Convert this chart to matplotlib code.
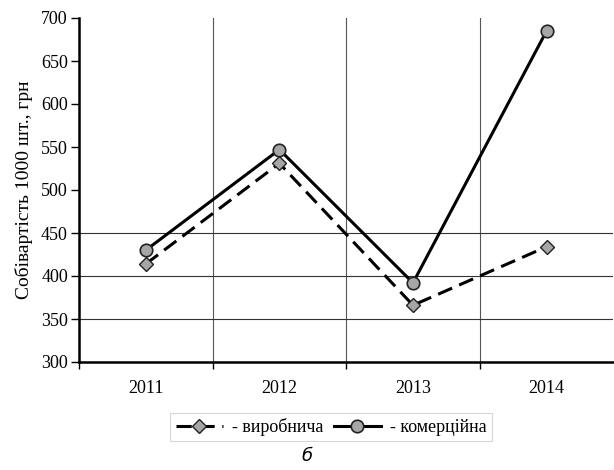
import matplotlib.pyplot as plt
from matplotlib.ticker import FixedLocator

years = ['2011', '2012', '2013', '2014']
vyrobnycha = [414, 531, 366, 434]
komertsiina = [430, 547, 392, 685]
hlines = [350, 400, 450]  # only these horizontal grid lines are visible

plt.rcParams['font.family'] = ['Liberation Serif', 'DejaVu Serif']

fig = plt.figure(figsize=(6.14, 4.70), dpi=100)
ax = fig.add_axes([79 / 614, 1 - 362 / 470, 1 - 79 / 614 - 0.001, (362 - 18) / 470])

x = list(range(len(years)))
ax.plot(x, vyrobnycha, color='black', lw=2.2, dashes=(5, 2.5), marker='D', ms=7.5,
        mfc='#a6a6a6', mec='#222222', mew=1, label='- виробнича', zorder=3)
ax.plot(x, komertsiina, color='black', lw=2.2, marker='o', ms=9,
        mfc='#a6a6a6', mec='#222222', mew=1.2, label='- комерційна', zorder=4)

ax.set_xlim(-0.5, 3.5)
ax.set_ylim(300, 700)
ax.set_yticks(range(300, 701, 50))
ax.set_xticks(x)
ax.set_xticklabels(years)
ax.xaxis.set_minor_locator(FixedLocator([-0.5, 0.5, 1.5, 2.5]))
ax.tick_params(axis='x', which='major', length=0, pad=13, labelsize=13)
ax.tick_params(axis='x', which='minor', length=5, width=1)
ax.tick_params(axis='y', length=6, width=1, labelsize=13, pad=2)

for h in hlines:
    ax.axhline(h, color='#333333', lw=0.8, zorder=1)
ax.grid(axis='x', which='minor', color='#555555', lw=0.8)
ax.set_axisbelow(True)

for s in ['top', 'right']:
    ax.spines[s].set_visible(False)
ax.spines['left'].set_linewidth(1.8)
ax.spines['bottom'].set_linewidth(1.8)

ax.set_ylabel('Собівартість 1000 шт., грн', fontsize=14, labelpad=6)

leg = fig.legend(loc='center', bbox_to_anchor=(331 / 614, 1 - 427 / 470), ncol=2,
                 frameon=True, fancybox=False, edgecolor='#cccccc', fontsize=13,
                 handlelength=2.6, columnspacing=0.6, handletextpad=0.5,
                 borderpad=0.3)
leg.get_frame().set_linewidth(0.8)

fig.text(307 / 614, 1 - 456 / 470, 'б', fontsize=13, style='italic',
         family=['DejaVu Sans'], ha='center', va='center')

fig.savefig('out.png', dpi=100)
